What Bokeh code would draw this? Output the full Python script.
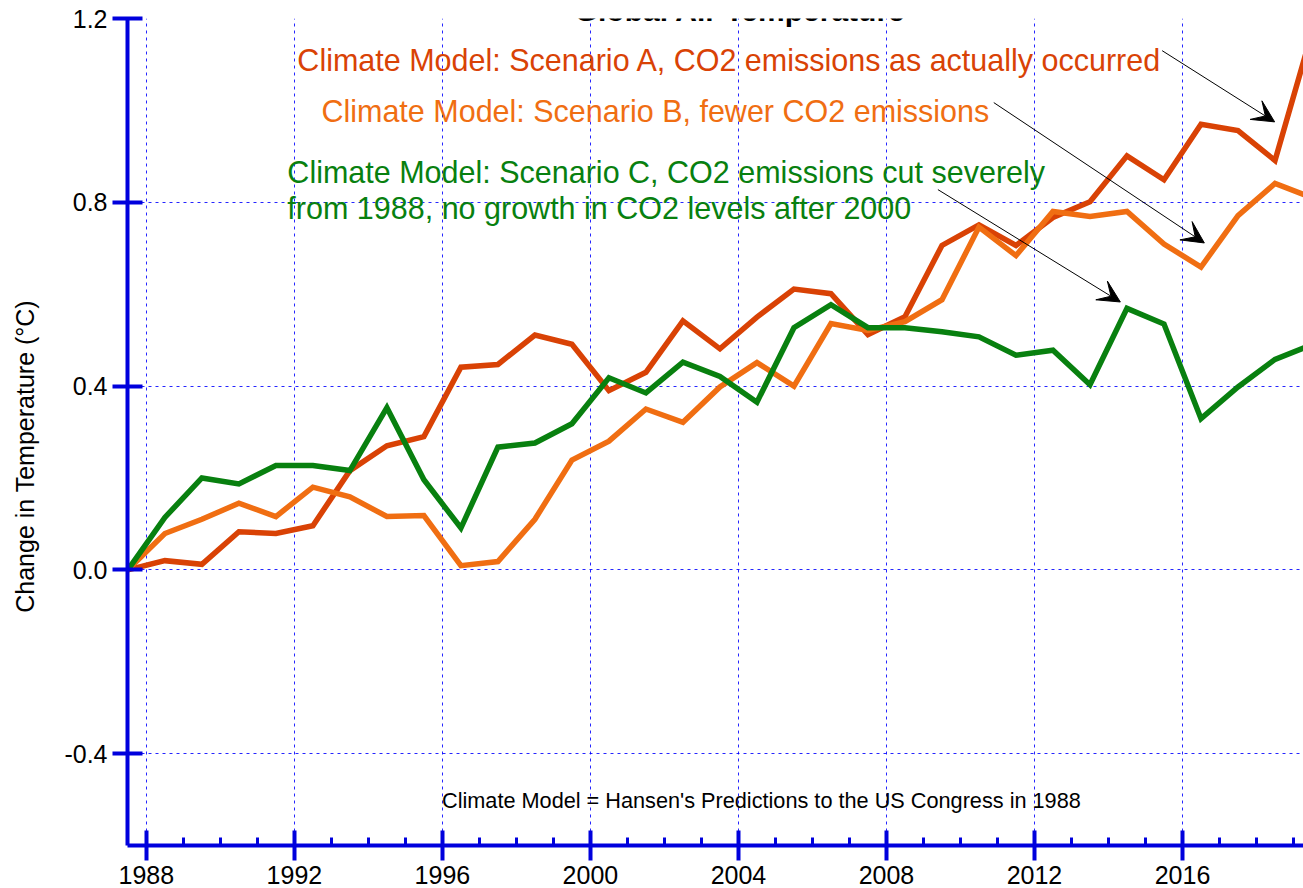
from bokeh.plotting import figure
from bokeh.models import Range1d, FixedTicker, SingleIntervalTicker, Label, Arrow, VeeHead, NumeralTickFormatter
from bokeh.embed import file_html
from bokeh.resources import INLINE

# ---- data ----
years = [1987.5, 1988.5, 1989.5, 1990.5, 1991.5, 1992.5, 1993.5, 1994.5, 1995.5, 1996.5,
         1997.5, 1998.5, 1999.5, 2000.5, 2001.5, 2002.5, 2003.5, 2004.5, 2005.5, 2006.5,
         2007.5, 2008.5, 2009.5, 2010.5, 2011.5, 2012.5, 2013.5, 2014.5, 2015.5, 2016.5,
         2017.5, 2018.5, 2019.5]

scenario_a = [0.00, 0.020, 0.012, 0.083, 0.079, 0.096, 0.216, 0.270, 0.290, 0.441,
              0.447, 0.511, 0.491, 0.390, 0.430, 0.542, 0.481, 0.550, 0.611, 0.601,
              0.512, 0.551, 0.706, 0.751, 0.706, 0.767, 0.801, 0.901, 0.849, 0.970,
              0.956, 0.891, 1.170]

scenario_b = [0.00, 0.079, 0.110, 0.145, 0.116, 0.180, 0.159, 0.116, 0.118, 0.009,
              0.018, 0.110, 0.239, 0.280, 0.350, 0.321, 0.398, 0.451, 0.400, 0.536,
              0.521, 0.540, 0.588, 0.746, 0.684, 0.780, 0.769, 0.780, 0.709, 0.659,
              0.771, 0.841, 0.810]

scenario_c = [0.00, 0.114, 0.200, 0.187, 0.227, 0.227, 0.216, 0.353, 0.196, 0.091,
              0.267, 0.276, 0.318, 0.418, 0.385, 0.452, 0.421, 0.365, 0.527, 0.577,
              0.527, 0.527, 0.518, 0.507, 0.467, 0.478, 0.403, 0.569, 0.535, 0.329,
              0.398, 0.458, 0.490]

y_ticks = [-0.4, 0.0, 0.4, 0.8, 1.2]

title_text = "Global Air Temperature"
y_label = "Change in Temperature (°C)"
label_a = "Climate Model: Scenario A, CO2 emissions as actually occurred"
label_b = "Climate Model: Scenario B, fewer CO2 emissions"
label_c1 = "Climate Model: Scenario C, CO2 emissions cut severely"
label_c2 = "from 1988, no growth in CO2 levels after 2000"
note_text = "Climate Model = Hansen's Predictions to the US Congress in 1988"

# ---- styles ----
RED = "#d94205"
ORANGE = "#f06e12"
GREEN = "#08800f"
BLUE = "#0000dd"
FONT = "Liberation Sans"

p = figure(width=1303, height=888,
           x_range=Range1d(1987.49, 2019.27), y_range=Range1d(-0.6, 1.2),
           output_backend="svg", toolbar_location=None,
           min_border_left=127, min_border_right=0, min_border_top=18, min_border_bottom=43)
p.outline_line_color = None
p.background_fill_color = "white"
p.border_fill_color = "white"

# axes
xa = p.xaxis[0]
xa.ticker = SingleIntervalTicker(interval=4, num_minor_ticks=4)
xa.axis_line_color = BLUE
xa.axis_line_width = 4
xa.major_tick_line_color = BLUE
xa.major_tick_line_width = 4
xa.major_tick_in = 15
xa.major_tick_out = 15
xa.minor_tick_line_color = BLUE
xa.minor_tick_line_width = 3
xa.minor_tick_in = 8
xa.minor_tick_out = 0
xa.major_label_text_font = FONT
xa.major_label_text_font_size = "25px"
xa.major_label_text_color = "black"
xa.major_label_standoff = 5

ya = p.yaxis[0]
ya.ticker = FixedTicker(ticks=y_ticks)
ya.formatter = NumeralTickFormatter(format="0.0")
ya.axis_line_color = BLUE
ya.axis_line_width = 4
ya.major_tick_line_color = BLUE
ya.major_tick_line_width = 4
ya.major_tick_in = 15
ya.major_tick_out = 15
ya.minor_tick_line_color = None
ya.major_label_text_font = FONT
ya.major_label_text_font_size = "25px"
ya.major_label_text_color = "black"
ya.major_label_standoff = 5
# trailing no-break spaces shift the visible label downward along the axis, as in the reference
ya.axis_label = y_label + "\u00a0" * 7
ya.axis_label_text_font = FONT
ya.axis_label_text_font_size = "25px"
ya.axis_label_text_font_style = "normal"
ya.axis_label_text_color = "black"
ya.axis_label_standoff = 22

for g in (p.xgrid[0], p.ygrid[0]):
    g.grid_line_color = "#0000ff"
    g.grid_line_alpha = 0.85
    g.grid_line_width = 1
    g.grid_line_dash = "3 4"
p.ygrid[0].ticker = FixedTicker(ticks=y_ticks)

# lines
p.line(years, scenario_a, line_color=RED, line_width=5.5, line_join="miter")
p.line(years, scenario_b, line_color=ORANGE, line_width=5.5, line_join="miter")
p.line(years, scenario_c, line_color=GREEN, line_width=5.5, line_join="miter")

# texts
p.add_layout(Label(x=2004.05, y=1.2185, text=title_text, text_font=FONT, text_font_size="30px",
                   text_font_style="bold", text_color="black", text_align="center",
                   text_baseline="alphabetic"))
p.add_layout(Label(x=1992.08, y=1.1087, text=label_a, text_font=FONT, text_font_size="30.5px",
                   text_color=RED, text_baseline="alphabetic"))
p.add_layout(Label(x=1992.73, y=0.9978, text=label_b, text_font=FONT, text_font_size="30.5px",
                   text_color=ORANGE, text_baseline="alphabetic"))
p.add_layout(Label(x=1991.81, y=0.8652, text=label_c1, text_font=FONT, text_font_size="30.5px",
                   text_color=GREEN, text_baseline="alphabetic"))
p.add_layout(Label(x=1991.81, y=0.787, text=label_c2, text_font=FONT, text_font_size="30.5px",
                   text_color=GREEN, text_baseline="alphabetic"))
p.add_layout(Label(x=2004.62, y=-0.502, text=note_text, text_font=FONT, text_font_size="21.7px",
                   text_color="black", text_align="center", text_baseline="alphabetic"))

# arrows
for xs, ys, xe, ye in [(2015.45, 1.130, 2018.49, 0.975),
                       (2010.90, 1.017, 2016.59, 0.7115),
                       (2009.39, 0.8276, 2014.32, 0.583)]:
    p.add_layout(Arrow(end=VeeHead(size=22, fill_color="black", line_color="black", line_width=1),
                       x_start=xs, y_start=ys, x_end=xe, y_end=ye,
                       line_color="black", line_width=1))

open("out.html", "w").write(file_html(p, INLINE))
